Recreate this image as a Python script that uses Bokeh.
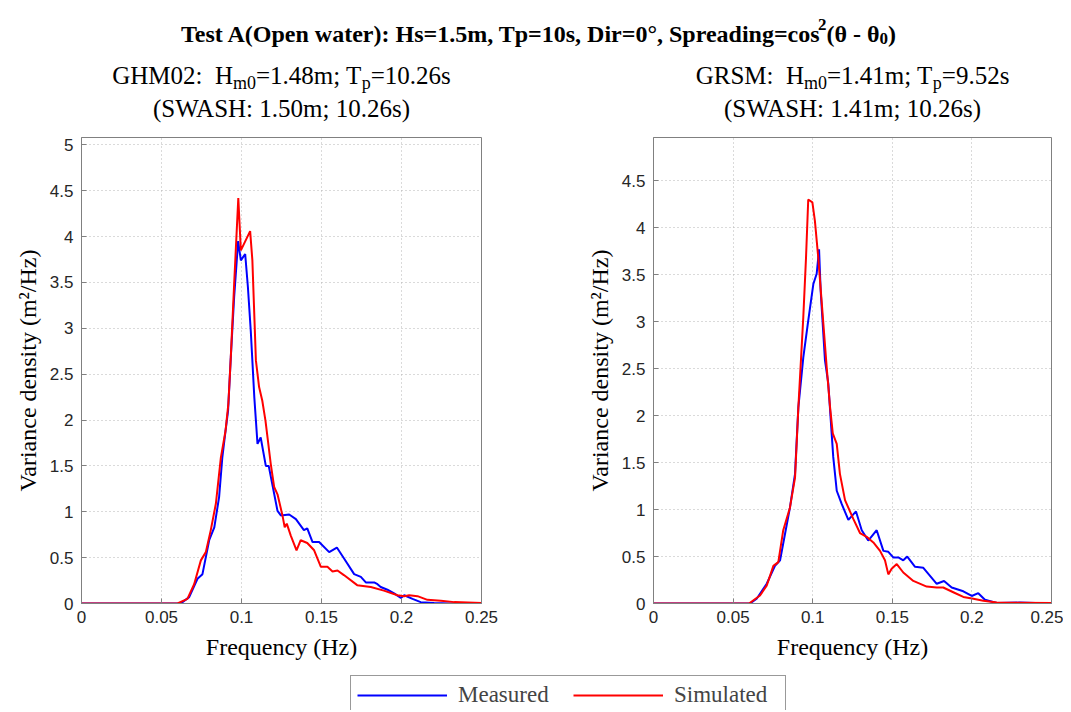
from bokeh.plotting import figure
from bokeh.models import (Range1d, FixedTicker, PrintfTickFormatter, Label,
                          Legend, LegendItem)
from bokeh.layouts import column, row
from bokeh.embed import file_html
from bokeh.resources import INLINE

# ---------------- data ----------------
freq_ticks = [0, 0.05, 0.1, 0.15, 0.2, 0.25]
dens_ticks = [0, 0.5, 1, 1.5, 2, 2.5, 3, 3.5, 4, 4.5, 5]

# GHM02 (left panel)
ghm_meas_f = [0, 0.062, 0.0673, 0.0725, 0.0756, 0.0798, 0.083, 0.086, 0.088, 0.090, 0.0916,
              0.0933, 0.0954, 0.0979, 0.0996, 0.1023, 0.104, 0.1058, 0.108, 0.110, 0.112,
              0.1152, 0.117, 0.1225, 0.1246, 0.1298, 0.134, 0.139, 0.1411, 0.1444, 0.1485,
              0.1548, 0.1596, 0.1641, 0.1704, 0.1746, 0.1777, 0.1829, 0.185, 0.187, 0.1912,
              0.1954, 0.1996, 0.2017, 0.2069, 0.212, 0.2204, 0.23, 0.25]
ghm_meas_s = [0, 0, 0.07, 0.27, 0.32, 0.69, 0.83, 1.16, 1.59, 1.88, 2.10,
              2.68, 3.34, 3.95, 3.74, 3.81, 3.45, 2.97, 2.25, 1.74, 1.81,
              1.50, 1.50, 1.01, 0.96, 0.97, 0.92, 0.80, 0.82, 0.67, 0.67,
              0.56, 0.61, 0.49, 0.32, 0.29, 0.23, 0.23, 0.21, 0.18, 0.15,
              0.11, 0.06, 0.09, 0.05, 0.015, 0.005, 0.0, 0.0]
ghm_sim_f = [0, 0.06, 0.0662, 0.0704, 0.0746, 0.0777, 0.0808, 0.084, 0.0871, 0.090, 0.0918,
             0.0933, 0.0954, 0.098, 0.0996, 0.1054, 0.1068, 0.109, 0.111, 0.113, 0.115,
             0.1183, 0.1204, 0.1225, 0.1256, 0.127, 0.1283, 0.1308, 0.1344, 0.137, 0.1411,
             0.1454, 0.1496, 0.1537, 0.1569, 0.16, 0.164, 0.1723, 0.1808, 0.189, 0.1975,
             0.2017, 0.2048, 0.21, 0.2162, 0.2246, 0.233, 0.25]
ghm_sim_s = [0, 0, 0.05, 0.21, 0.47, 0.56, 0.80, 1.09, 1.59, 1.88, 2.18,
             2.68, 3.48, 4.42, 3.85, 4.06, 3.74, 2.65, 2.36, 2.21, 1.99,
             1.52, 1.27, 1.19, 0.96, 0.83, 0.87, 0.74, 0.58, 0.69, 0.66,
             0.58, 0.40, 0.40, 0.35, 0.36, 0.31, 0.20, 0.18, 0.14, 0.09,
             0.08, 0.09, 0.08, 0.04, 0.03, 0.015, 0.005]

# GRSM (right panel)
grsm_meas_f = [0, 0.0606, 0.0648, 0.0711, 0.0763, 0.0795, 0.0826, 0.0857, 0.0889, 0.091,
               0.0941, 0.0972, 0.1004, 0.1025, 0.104, 0.105, 0.1077, 0.1098, 0.1129, 0.1151,
               0.1182, 0.1224, 0.1272, 0.1308, 0.1349, 0.1402, 0.1444, 0.1475, 0.1506,
               0.1538, 0.1569, 0.1594, 0.1643, 0.1695, 0.1779, 0.1825, 0.1873, 0.1946,
               0.1999, 0.204, 0.2082, 0.2156, 0.23, 0.25]
grsm_meas_s = [0, 0, 0.05, 0.21, 0.40, 0.46, 0.74, 1.02, 1.38, 2.09,
               2.62, 3.01, 3.40, 3.51, 3.77, 3.33, 2.59, 2.34, 1.56, 1.20,
               1.06, 0.89, 0.98, 0.78, 0.67, 0.78, 0.56, 0.55, 0.49,
               0.49, 0.46, 0.50, 0.39, 0.38, 0.21, 0.24, 0.17, 0.13,
               0.08, 0.11, 0.04, 0.005, 0.01, 0.0]
grsm_sim_f = [0, 0.06, 0.0669, 0.0711, 0.0753, 0.0784, 0.0815, 0.0857, 0.0889, 0.091,
              0.0941, 0.0958, 0.0972, 0.0998, 0.1014, 0.1035, 0.1056, 0.1088, 0.1109, 0.1126,
              0.1151, 0.1171, 0.1203, 0.1255, 0.1297, 0.1339, 0.1381, 0.1423, 0.1454,
              0.1475, 0.1496, 0.1528, 0.1569, 0.1632, 0.1716, 0.1779, 0.182, 0.1883,
              0.1946, 0.2009, 0.2072, 0.2156, 0.25]
grsm_sim_s = [0, 0, 0.085, 0.19, 0.40, 0.44, 0.78, 1.02, 1.34, 2.09,
              3.05, 3.68, 4.30, 4.27, 4.07, 3.68, 3.22, 2.51, 2.09, 1.81,
              1.70, 1.38, 1.10, 0.90, 0.75, 0.71, 0.65, 0.56, 0.46,
              0.31, 0.37, 0.42, 0.33, 0.24, 0.18, 0.17, 0.17, 0.12,
              0.07, 0.05, 0.03, 0.01, 0.005]

series_names = ["Measured", "Simulated"]
main_title = ["Test A(Open water): Hs=1.5m, Tp=10s, Dir=0°, Spreading=cos", "2", "(θ - θ", "0", ")"]
left_title = ["GHM02:\u00a0 H", "m0", "=1.48m; T", "p", "=10.26s"]
left_title2 = "(SWASH: 1.50m; 10.26s)"
right_title = ["GRSM:\u00a0 H", "m0", "=1.41m; T", "p", "=9.52s"]
right_title2 = "(SWASH: 1.41m; 10.26s)"
x_label = "Frequency (Hz)"
y_label = "Variance density (m²/Hz)"

# ---------------- styling ----------------
SERIF = "Liberation Serif"
SANS = "Liberation Sans"
BLUE = "#0000ff"
RED = "#ff0000"
AXC = "#808080"
FS_MAIN = 24
FS_SUB = 25
FS_AX = 24
FS_LEG = 23
LEFT_PAD = 73   # shared left border of title strip and legend strip
PAGE_W = 1063

# Times metrics (Liberation Serif is metric compatible)
TR = {' ': 250, '\u00a0': 250, '(': 333, ')': 333, ',': 250, '-': 333, '.': 250, '/': 278,
      ':': 278, ';': 278, '=': 564, 'A': 722, 'G': 722, 'H': 722, 'M': 889, 'R': 667, 'S': 556,
      'T': 611, 'W': 944, 'm': 778, 'p': 500, 's': 389}
TB = {' ': 250, '(': 333, ')': 333, ',': 250, '-': 333, '.': 250, ':': 333, '=': 570, 'A': 722,
      'D': 722, 'H': 778, 'O': 778, 'S': 556, 'T': 667, 'a': 500, 'c': 444, 'd': 556, 'e': 444,
      'g': 500, 'i': 278, 'm': 833, 'n': 556, 'o': 500, 'p': 556, 'r': 444, 's': 389, 't': 333,
      'w': 722, '°': 400, 'θ': 520}


def tw(s, size, bold):
    tab = TB if bold else TR
    return sum(tab.get(c, 500) for c in s) / 1000.0 * size


def add_rich(fig, parts, cx, base_y, size, small_size, shifts, kern, bold):
    specs = []
    for i, txt in enumerate(parts):
        small = (i % 2 == 1)
        sz = small_size if small else size
        specs.append((txt, sz, shifts[i], tw(txt, sz, bold) - kern[i]))
    total = sum(s[3] for s in specs)
    x = cx - total / 2.0
    for txt, sz, dy, w in specs:
        fig.add_layout(Label(x=x, y=base_y + dy, x_units="data", y_units="data", text=txt,
                             text_font=SERIF, text_font_size=f"{sz}px",
                             text_font_style="bold" if bold else "normal",
                             text_color="black", text_align="left",
                             text_baseline="alphabetic"))
        x += w


# ---------------- title strip ----------------
tfig = figure(width=PAGE_W, height=135, x_range=Range1d(LEFT_PAD, PAGE_W),
              y_range=Range1d(-8, 127),
              x_axis_location=None, y_axis_location=None, min_border_left=LEFT_PAD,
              min_border_right=0, min_border_top=0, min_border_bottom=0,
              outline_line_color=None, output_backend="svg", toolbar_location=None)
tfig.grid.visible = False
add_rich(tfig, main_title, 538, 94, FS_MAIN, 17, [0, 9, 0, -5, 0], [6, 0, 0, 0, 0], True)
add_rich(tfig, left_title, 281, 52, FS_SUB, 18, [0, -7, 0, -7, 0], [0, 0, 0, 0, 0], False)
add_rich(tfig, right_title, 852, 52, FS_SUB, 18, [0, -7, 0, -7, 0], [0, 0, 0, 0, 0], False)
for cx, txt in ((281, left_title2), (852, right_title2)):
    tfig.add_layout(Label(x=cx, y=19, text=txt, text_font=SERIF, text_font_size=f"{FS_SUB}px",
                          text_align="center", text_baseline="alphabetic", text_color="black"))


# ---------------- spectra panels ----------------
def spec_fig(width, ml, mr, ymax, fm, sm, fs_, ss):
    p = figure(width=width, height=533, x_range=Range1d(0, 0.25), y_range=Range1d(0, ymax),
               min_border_left=ml, min_border_right=mr, min_border_top=2, min_border_bottom=65,
               output_backend="svg", toolbar_location=None)
    p.line(fm, sm, color=BLUE, line_width=2)
    p.line(fs_, ss, color=RED, line_width=2)
    p.xaxis.ticker = FixedTicker(ticks=freq_ticks)
    p.yaxis.ticker = FixedTicker(ticks=dens_ticks)
    p.xaxis.formatter = PrintfTickFormatter(format="%g")
    p.yaxis.formatter = PrintfTickFormatter(format="%g")
    p.xaxis.axis_label = x_label
    p.yaxis.axis_label = y_label
    for ax in (p.xaxis[0], p.yaxis[0]):
        ax.axis_line_color = AXC
        ax.major_tick_line_color = AXC
        ax.major_tick_in = 5
        ax.major_tick_out = 0
        ax.minor_tick_line_color = None
        ax.major_label_text_font = SANS
        ax.major_label_text_font_size = "17px"
        ax.major_label_text_color = "#262626"
        ax.axis_label_text_font = SERIF
        ax.axis_label_text_font_size = f"{FS_AX}px"
        ax.axis_label_text_font_style = "normal"
        ax.axis_label_text_color = "black"
    p.xaxis.major_label_standoff = 7
    p.xaxis.axis_label_standoff = 8
    p.yaxis.major_label_standoff = 8
    p.yaxis.axis_label_standoff = 6
    p.outline_line_color = AXC
    p.xgrid.grid_line_color = "#b4b4b4"
    p.ygrid.grid_line_color = "#b4b4b4"
    p.xgrid.grid_line_dash = "1 3"
    p.ygrid.grid_line_dash = "1 3"
    return p


p1 = spec_fig(560, 81, 79, 5.08, ghm_meas_f, ghm_meas_s, ghm_sim_f, ghm_sim_s)
p2 = spec_fig(503, 93, 12, 4.96, grsm_meas_f, grsm_meas_s, grsm_sim_f, grsm_sim_s)

# ---------------- legend strip ----------------
# the series are plotted again here only to feed the legend swatches; the
# strip's x range lies beyond the data so these copies stay out of view.
lg = figure(width=PAGE_W, height=42, x_range=Range1d(1, 2), y_range=Range1d(0, 1),
            x_axis_location=None, y_axis_location=None, min_border_left=LEFT_PAD,
            min_border_right=0, min_border_top=0, min_border_bottom=0,
            outline_line_color=None, output_backend="svg", toolbar_location=None)
lg.grid.visible = False
r1 = lg.line(ghm_meas_f, ghm_meas_s, color=BLUE, line_width=2)
r2 = lg.line(ghm_sim_f, ghm_sim_s, color=RED, line_width=2)
leg = Legend(items=[LegendItem(label=series_names[0], renderers=[r1]),
                    LegendItem(label=series_names[1], renderers=[r2])],
             orientation="horizontal", location="top_center", margin=7, padding=6,
             spacing=10, glyph_width=90, glyph_height=20, label_standoff=11,
             label_width=105, label_text_font=SERIF, label_text_font_size=f"{FS_LEG}px",
             border_line_color="#333333", border_line_width=1)
lg.add_layout(leg, "center")

layout = column(tfig, row(p1, p2), lg)
open("out.html", "w").write(file_html(layout, INLINE))
